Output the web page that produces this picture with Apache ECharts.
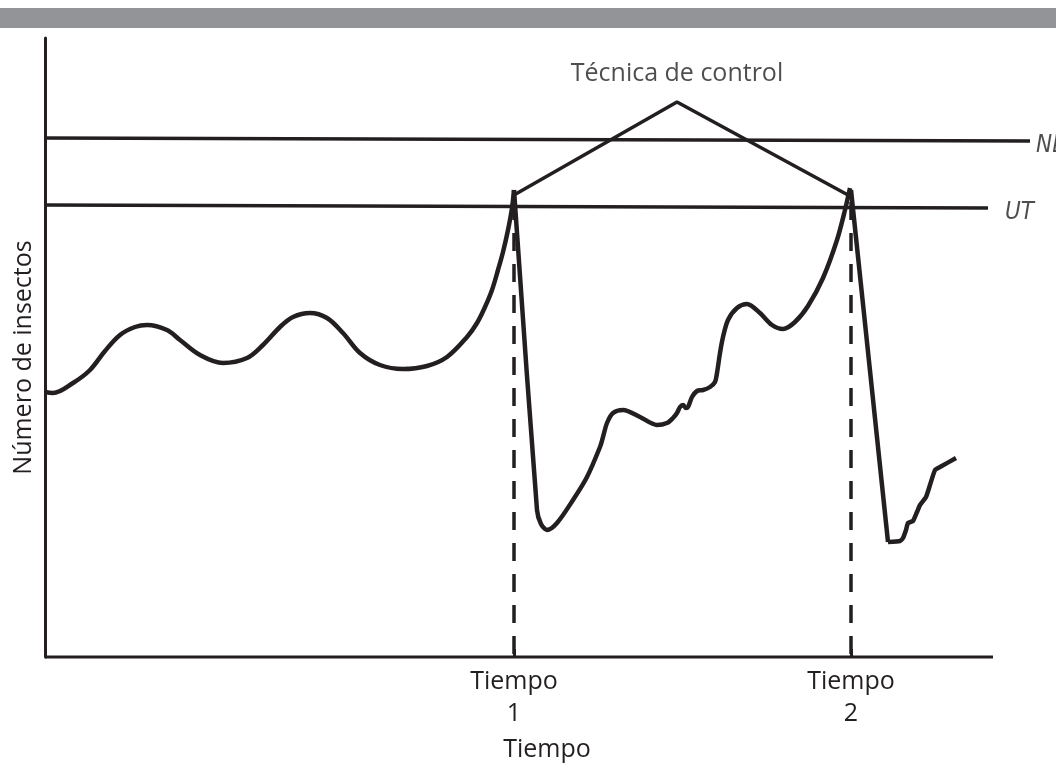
<!DOCTYPE html>
<html><head><meta charset="utf-8">
<script src="https://cdn.jsdelivr.net/npm/echarts@6/dist/echarts.min.js"></script>
<style>html,body{margin:0;padding:0;background:#fff}#c{width:1056px;height:769px}</style>
</head><body><div id="c"></div>
<script>
// x: time units (0..985), y: number of insects units (0..619)
const curveBefore = [[0,265],[8,264],[28,274],[45,287],[60,306],[75,322],[90,330],[102,332],[122,327],[135,317],[155,302],[178,294],[202,299],[218,312],[235,330],[248,340],[265,344],[282,339],[298,324],[315,304],[335,292],[358,288],[382,291],[402,300],[422,320],[432,334],[440,350],[447,367],[453,387],[458,405],[463,427],[467,449],[469,467]];
const curveBetween = [[469,467],[492,147],[496,133],[502,127],[512,134],[528,157],[542,180],[555,210],[558,220],[562,234],[568,244],[578,247],[595,240],[612,232],[622,234],[628,239],[632,244],[635,250],[638,252],[641,249],[643,250],[647,260],[652,266],[658,267],[665,270],[670,275],[672,284],[675,304],[678,320],[683,337],[692,349],[702,353],[715,344],[727,332],[738,328],[750,335],[763,351],[778,379],[792,417],[800,447],[805,469]];
const curveDrop2 = [[806,467],[843,115]];
const curveAfter = [[843,115],[855,116],[858,119],[861,127],[863,134],[868,136],[872,145],[875,152],[881,160],[885,172],[890,187],[895,190],[911,199]];
const timeAxisLine = [[0,0],[948,0]];
const nedLine = [[0,519],[985,516]];
const utLine = [[0,452],[943,449]];
const controlTriangle = [[469,462],[632,555],[803,462]];
const time1 = [[469,455],[469,0]];
const time2 = [[806,455],[806,0]];
const tickValues = [469, 806];
const tickLabels = ['Tiempo\n1', 'Tiempo\n2'];
const textMarks = [
  {value:[632,555], name:'Técnica de control', pos:'top', dist:16, italic:false},
  {value:[985,516], name:'NED', pos:'right', dist:6, italic:true},
  {value:[943,449], name:'UT', pos:'right', dist:17, italic:true}
];
const xTitle = 'Tiempo';
const yTitle = 'Número de insectos';

const INK = '#231f20';
const FONT = '"Open Sans", "Noto Sans", sans-serif';
const NARROW = '"Liberation Sans Narrow", "DejaVu Sans Condensed", "Open Sans", sans-serif';
const chart = echarts.init(document.getElementById('c'), null, {renderer:'canvas'});
function lineSeries(data, opts) {
  return Object.assign({
    type:'line', data, showSymbol:false, symbol:'none', silent:true, animation:false, clip:false,
    lineStyle:{color:INK, width:4.5}, z:3
  }, opts||{});
}
chart.setOption({
  animation:false,
  backgroundColor:'#ffffff',
  graphic:[{type:'rect', shape:{x:0,y:8,width:1056,height:20}, style:{fill:'#939497'}, silent:true}],
  grid:{left:45, right:26, top:38, bottom:112, containLabel:false, outerBoundsMode:'none'},
  xAxis:{
    type:'value', min:0, max:985,
    name:xTitle, nameLocation:'start', nameGap:-502,
    nameTextStyle:{fontFamily:FONT, fontSize:25, color:INK, align:'center', verticalAlign:'top', padding:[80,0,0,0]},
    axisLine:{show:false},
    axisTick:{show:true, inside:true, length:8, lineStyle:{color:INK, width:3}, customValues:tickValues},
    axisLabel:{show:true, margin:9, fontFamily:FONT, fontSize:25, color:INK, lineHeight:32,
      customValues:tickValues, formatter:(v)=>tickLabels[tickValues.indexOf(v)] ?? ''},
    splitLine:{show:false}
  },
  yAxis:{
    type:'value', min:0, max:619,
    name:yTitle, nameLocation:'middle', nameGap:9, nameRotate:90,
    nameTextStyle:{fontFamily:FONT, fontSize:25, color:INK, padding:[0,20,0,0]},
    axisLine:{show:true, lineStyle:{color:INK, width:3}},
    axisTick:{show:false}, axisLabel:{show:false}, splitLine:{show:false}
  },
  series:[
    lineSeries(timeAxisLine, {lineStyle:{color:INK, width:3}}),
    lineSeries(nedLine, {lineStyle:{color:INK, width:3.5}}),
    lineSeries(utLine, {lineStyle:{color:INK, width:3.5}}),
    lineSeries(time1, {lineStyle:{color:INK, width:3.5, type:[18,13]}}),
    lineSeries(time2, {lineStyle:{color:INK, width:3.5, type:[18,13]}}),
    lineSeries(controlTriangle, {lineStyle:{color:INK, width:3.5}}),
    lineSeries(curveBefore, {smooth:0.35}),
    lineSeries(curveBetween, {smooth:0.3}),
    lineSeries(curveDrop2, {}),
    lineSeries(curveAfter, {smooth:0.15}),
    {
      type:'scatter', symbolSize:0, clip:false, silent:true, animation:false, z:5,
      data:textMarks.map(t=>({value:t.value, name:t.name,
        label:{show:true, position:t.pos, distance:t.dist, formatter:t.name, offset:t.italic?[0,5]:[0,0],
          fontFamily:t.italic?NARROW:FONT, fontSize:t.italic?24:25, color:INK, fontStyle:t.italic?'italic':'normal'}}))
    }
  ]
});
</script></body></html>
